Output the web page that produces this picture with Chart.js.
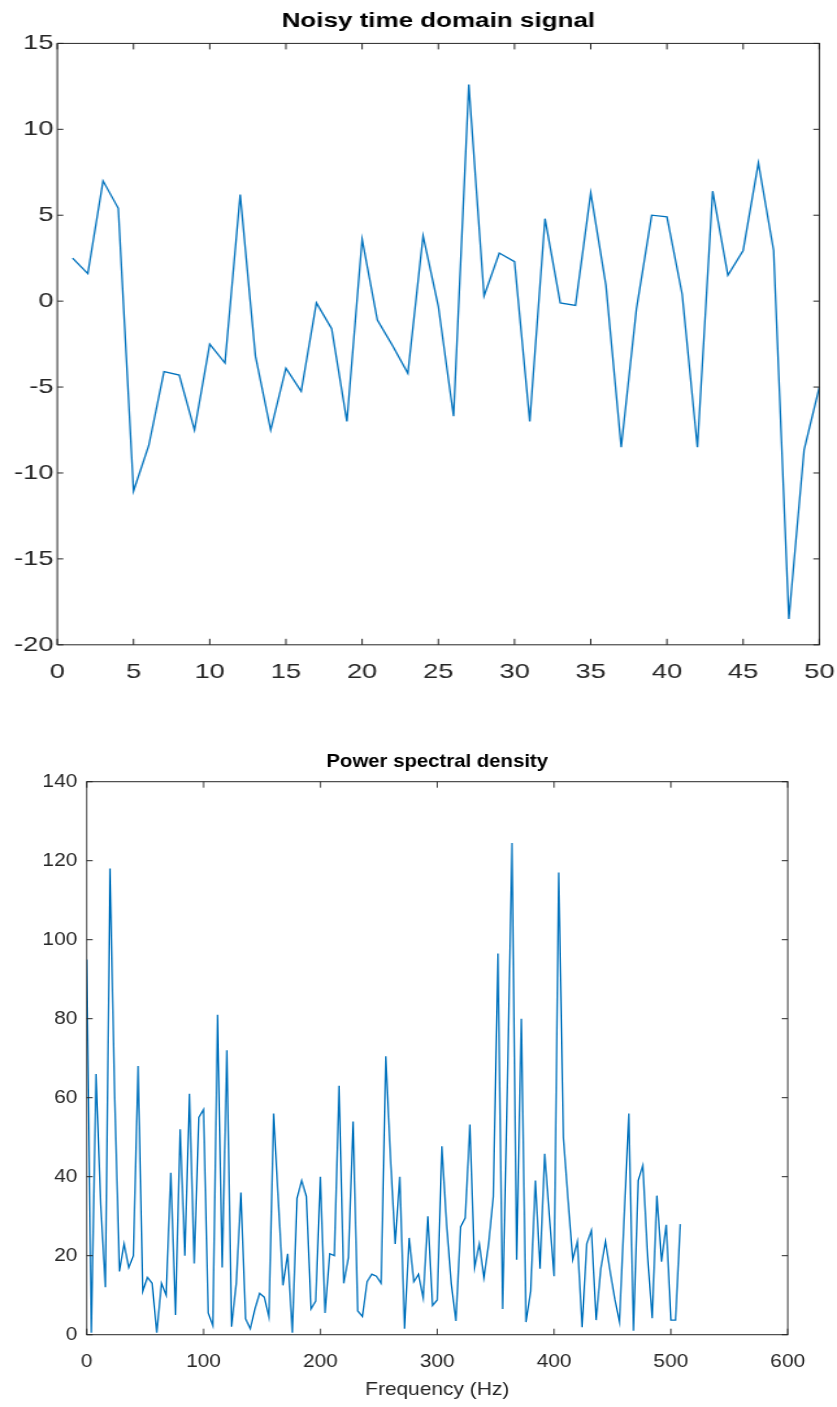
<!DOCTYPE html>
<html>
<head>
<meta charset="utf-8">
<title>Noisy time domain signal / Power spectral density</title>
<script src="https://cdn.jsdelivr.net/npm/chart.js@4.4.1/dist/chart.umd.min.js"></script>
<style>
  html, body { margin: 0; padding: 0; background: #fff; }
  #page { position: relative; width: 837px; height: 1407px; overflow: hidden; }
  #timeChart { position: absolute; left: 0; top: 0; }
  #psdChart { position: absolute; left: 0; top: 700px; }
</style>
</head>
<body>
<div id="page">
  <canvas id="timeChart" width="644" height="700" style="width:837px;height:700px"></canvas>
  <canvas id="psdChart" width="761" height="707" style="width:837px;height:707px"></canvas>
</div>
<script>
// top plot: noisy signal, one value per sample
const sampleIndex = [1, 2, 3, 4, 5, 6, 7, 8, 9, 10, 11, 12, 13, 14, 15, 16, 17, 18, 19, 20,
    21, 22, 23, 24, 25, 26, 27, 28, 29, 30, 31, 32, 33, 34, 35, 36, 37, 38, 39, 40,
    41, 42, 43, 44, 45, 46, 47, 48, 49, 50];
const noisySignal = [2.5, 1.6, 7.0, 5.4, -11.05, -8.4, -4.1, -4.3, -7.5, -2.5,
    -3.6, 6.2, -3.2, -7.5, -3.9, -5.25, -0.1, -1.6, -7.0, 3.6,
    -1.1, -2.6, -4.2, 3.8, -0.3, -6.7, 12.6, 0.3, 2.8, 2.3,
    -7.0, 4.8, -0.1, -0.25, 6.3, 0.9, -8.5, -0.45, 5.0, 4.9,
    0.4, -8.5, 6.4, 1.5, 2.95, 8.05, 2.95, -18.5, -8.65, -5.0];
const timeTicks = [0, 5, 10, 15, 20, 25, 30, 35, 40, 45, 50];
const signalTicks = [-20, -15, -10, -5, 0, 5, 10, 15];

// bottom plot: power spectral density
const frequencyHz = [0, 4, 8, 12, 16, 20, 24, 28, 32, 36, 40, 44, 48, 52, 56, 60,
    64, 68, 72, 76, 80, 84, 88, 92, 96, 100, 104, 108, 112, 116, 120, 124,
    128, 132, 136, 140, 144, 148, 152, 156, 160, 164, 168, 172, 176, 180, 184, 188,
    192, 196, 200, 204, 208, 212, 216, 220, 224, 228, 232, 236, 240, 244, 248, 252,
    256, 260, 264, 268, 272, 276, 280, 284, 288, 292, 296, 300, 304, 308, 312, 316,
    320, 324, 328, 332, 336, 340, 344, 348, 352, 356, 360, 364, 368, 372, 376, 380,
    384, 388, 392, 396, 400, 404, 408, 412, 416, 420, 424, 428, 432, 436, 440, 444,
    448, 452, 456, 460, 464, 468, 472, 476, 480, 484, 488, 492, 496, 500, 504, 508];
const powerDensity = [95, 0.5, 66, 33, 12, 118, 60, 16, 23, 17,
    20, 68, 11, 14.5, 13, 0.5, 13, 10, 41, 5,
    52, 20, 61, 18, 55, 57, 5.5, 2.3, 81, 17,
    72, 2, 13, 36, 4, 1.5, 6.5, 10.5, 9.5, 4.5,
    56, 34, 12.5, 20.5, 0.5, 34.5, 39, 35, 6.5, 8.5,
    40, 5.5, 20.5, 20, 63, 13, 19.5, 54, 6, 4.6,
    13.4, 15.3, 14.8, 13, 70.5, 45, 23, 40, 1.5, 24.5,
    13.4, 15.3, 9.3, 30, 7.4, 8.8, 47.7, 28, 13, 3.5,
    27.3, 29.6, 53.2, 17, 23, 14.4, 23, 35, 96.5, 6.5,
    62, 124.5, 19, 80, 3.2, 11, 39, 16.7, 45.8, 30,
    14.8, 117, 50, 34, 19, 23.6, 1.9, 23, 26.4, 3.7,
    16.7, 23.6, 16, 9, 3.2, 30, 56, 1, 39, 42.8,
    20, 4.2, 35.2, 18.5, 27.8, 3.7, 3.7, 28];
const freqTicks = [0, 100, 200, 300, 400, 500, 600];
const psdTicks = [0, 20, 40, 60, 80, 100, 120, 140];

const fontFamily = '"Liberation Sans", Arial, Helvetica, sans-serif';
const axisColor = '#262626';
const lineColor = '#0072BD';

// box round the axes with inward ticks on all four sides
const boxTicks = {
    id: 'boxTicks',
    afterDraw(chart, args, opts) {
        const { ctx, chartArea: a, scales: { x, y } } = chart;
        const len = opts.tickLength;
        const hLen = len / opts.stretch;
        ctx.save();
        ctx.strokeStyle = axisColor;
        ctx.lineWidth = 1;
        ctx.strokeRect(a.left, a.top, a.right - a.left, a.bottom - a.top);
        ctx.beginPath();
        x.ticks.forEach(t => {
            const px = x.getPixelForValue(t.value);
            ctx.moveTo(px, a.bottom); ctx.lineTo(px, a.bottom - len);
            ctx.moveTo(px, a.top); ctx.lineTo(px, a.top + len);
        });
        y.ticks.forEach(t => {
            const py = y.getPixelForValue(t.value);
            ctx.moveTo(a.left, py); ctx.lineTo(a.left + hLen, py);
            ctx.moveTo(a.right, py); ctx.lineTo(a.right - hLen, py);
        });
        ctx.stroke();
        ctx.restore();
    }
};

function toPoints(xs, ys) {
    return xs.map((v, i) => ({ x: v, y: ys[i] }));
}

function fixedScale(tickValues, o) {
    return {
        type: 'linear',
        min: tickValues[0],
        max: tickValues[tickValues.length - 1],
        grid: { display: false, drawTicks: false },
        border: { display: false },
        title: o.title || { display: false },
        ticks: {
            color: axisColor,
            font: { family: fontFamily, size: o.fontSize },
            padding: o.padding,
            maxRotation: 0,
            autoSkip: false
        },
        afterBuildTicks: s => { s.ticks = tickValues.map(v => ({ value: v })); },
        afterFit: s => {
            if (s.isHorizontal()) {
                s.height = o.size; s.paddingLeft = 0; s.paddingRight = 0;
            } else {
                s.width = o.size; s.paddingTop = 0; s.paddingBottom = 0;
            }
        }
    };
}

new Chart(document.getElementById('timeChart'), {
    type: 'line',
    data: {
        datasets: [{
            data: toPoints(sampleIndex, noisySignal),
            borderColor: lineColor,
            borderWidth: 1.3,
            pointRadius: 0,
            fill: false,
            tension: 0
        }]
    },
    options: {
        responsive: false,
        animation: false,
        devicePixelRatio: 1,
        layout: { padding: { left: 0, right: 13.6, top: 0, bottom: 0 } },
        plugins: {
            legend: { display: false },
            tooltip: { enabled: false },
            title: {
                display: true,
                text: 'Noisy time domain signal',
                fullSize: false,
                color: '#000',
                font: { family: fontFamily, size: 20, weight: 'bold' },
                padding: { top: 9, bottom: 10.4 }
            },
            boxTicks: { stretch: 837 / 644, tickLength: 6 }
        },
        scales: {
            x: fixedScale(timeTicks, { size: 55.2, fontSize: 21, padding: 14.4 }),
            y: fixedScale(signalTicks, { size: 44.1, fontSize: 21, padding: 3 })
        }
    },
    plugins: [boxTicks]
});

new Chart(document.getElementById('psdChart'), {
    type: 'line',
    data: {
        datasets: [{
            data: toPoints(frequencyHz, powerDensity),
            borderColor: lineColor,
            borderWidth: 1.4,
            pointRadius: 0,
            fill: false,
            tension: 0
        }]
    },
    options: {
        responsive: false,
        animation: false,
        devicePixelRatio: 1,
        layout: { padding: { left: 0, right: 44.8, top: 0, bottom: 0 } },
        plugins: {
            legend: { display: false },
            tooltip: { enabled: false },
            title: {
                display: true,
                text: 'Power spectral density',
                fullSize: false,
                color: '#000',
                font: { family: fontFamily, size: 18.5, weight: 'bold' },
                padding: { top: 50.6, bottom: 8.9 }
            },
            boxTicks: { stretch: 837 / 761, tickLength: 6 }
        },
        scales: {
            x: fixedScale(freqTicks, {
                size: 72.3, fontSize: 19, padding: 15.6,
                title: {
                    display: true,
                    text: 'Frequency (Hz)',
                    color: axisColor,
                    font: { family: fontFamily, size: 19 },
                    padding: { top: 0, bottom: 5.6 }
                }
            }),
            y: fixedScale(psdTicks, { size: 78.8, fontSize: 19, padding: 8.5 })
        }
    },
    plugins: [boxTicks]
});
</script>
</body>
</html>
